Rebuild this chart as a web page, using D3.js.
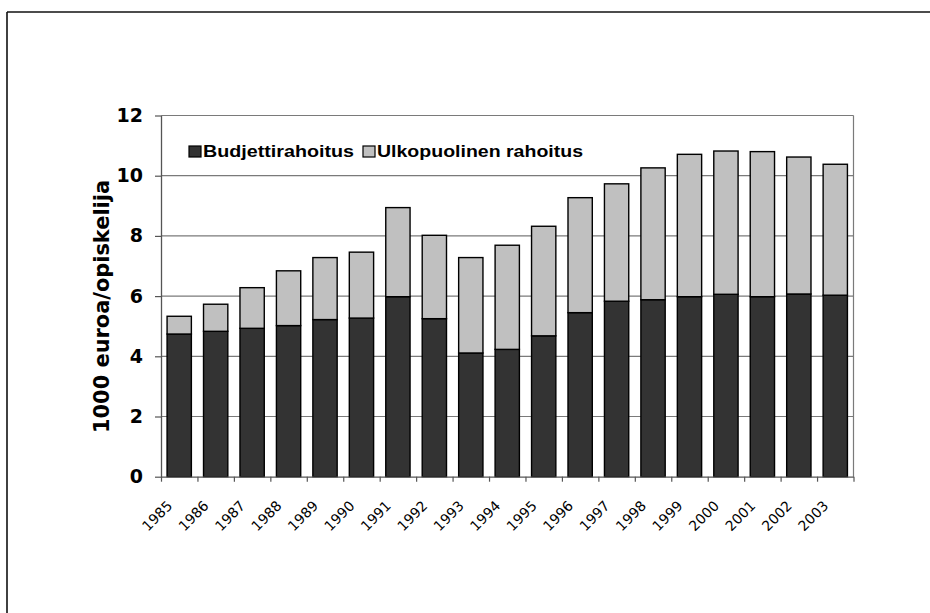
<!DOCTYPE html>
<html>
<head>
<meta charset="utf-8">
<script src="https://cdn.jsdelivr.net/npm/d3@7"></script>
<style>
  html, body { margin: 0; padding: 0; background: #fff; }
  svg { display: block; }
</style>
</head>
<body>
<svg id="chart" width="930" height="613"></svg>
<script>
// ---- data ----
const years = ["1985","1986","1987","1988","1989","1990","1991","1992","1993","1994","1995","1996","1997","1998","1999","2000","2001","2002","2003"];
const budjettirahoitus = [4.74,4.83,4.93,5.02,5.22,5.27,5.98,5.25,4.11,4.23,4.68,5.45,5.83,5.88,5.98,6.06,5.98,6.07,6.03];
const ulkopuolinenRahoitus = [0.59,0.90,1.35,1.82,2.06,2.19,2.96,2.77,3.17,3.46,3.64,3.82,3.90,4.38,4.73,4.76,4.82,4.55,4.35];
const seriesNames = ["Budjettirahoitus", "Ulkopuolinen rahoitus"];
const yTicks = [0, 2, 4, 6, 8, 10, 12];
const yTitle = "1000 euroa/opiskelija";

// ---- layout ----
const svg = d3.select("#chart");
const L = 161, R = 853.5, T = 115.5, B = 476.7;
const colors = ["#333333", "#c0c0c0"];

const rows = years.map((yr, i) => ({ year: yr, b: budjettirahoitus[i], u: ulkopuolinenRahoitus[i] }));
const stacked = d3.stack().keys(["b", "u"])(rows);

const x = d3.scaleBand().domain(years).range([L, R]).paddingInner(1/3).paddingOuter(1/6);
const y = d3.scaleLinear().domain([0, 12]).range([B, T]);

// outer frame (top and left edges)
svg.append("line").attr("x1", 7).attr("x2", 930).attr("y1", 12).attr("y2", 12)
  .attr("stroke", "#111").attr("stroke-width", 1.6);
svg.append("line").attr("x1", 7).attr("x2", 7).attr("y1", 12).attr("y2", 613)
  .attr("stroke", "#111").attr("stroke-width", 1.6);

// gridlines
svg.append("g").selectAll("line").data(yTicks.filter(d => d > 0)).join("line")
  .attr("x1", L).attr("x2", R)
  .attr("y1", d => y(d)).attr("y2", d => y(d))
  .attr("stroke", "#7a7a7a").attr("stroke-width", 1.2);

// right border of plot
svg.append("line").attr("x1", R).attr("x2", R).attr("y1", T).attr("y2", B)
  .attr("stroke", "#7a7a7a").attr("stroke-width", 1.2);

// bars
svg.append("g").selectAll("g").data(stacked).join("g")
  .attr("fill", (d, i) => colors[i])
  .selectAll("rect").data(d => d).join("rect")
  .attr("x", d => x(d.data.year))
  .attr("width", x.bandwidth())
  .attr("y", d => y(d[1]))
  .attr("height", d => y(d[0]) - y(d[1]))
  .attr("stroke", "#000").attr("stroke-width", 1.4);

// y axis
const yAxis = svg.append("g").attr("transform", `translate(${L},0)`)
  .call(d3.axisLeft(y).tickValues(yTicks).tickSize(6).tickPadding(12).tickSizeOuter(0));
yAxis.select(".domain").attr("stroke", "#555").attr("stroke-width", 1.3);
yAxis.selectAll(".tick line").attr("stroke", "#555").attr("stroke-width", 1.2);
yAxis.selectAll(".tick text")
  .attr("font-family", "DejaVu Sans").attr("font-weight", "bold")
  .attr("font-size", 19).attr("fill", "#000");

// x axis (ticks at category boundaries)
const xb = d3.scaleLinear().domain([0, years.length]).range([L, R]);
const xAxis = svg.append("g").attr("transform", `translate(0,${B})`)
  .call(d3.axisBottom(xb).tickValues(d3.range(years.length + 1)).tickSize(5).tickFormat("").tickSizeOuter(0));
xAxis.select(".domain").attr("stroke", "#555").attr("stroke-width", 1.3);
xAxis.selectAll(".tick line").attr("stroke", "#555").attr("stroke-width", 1.2);

// x labels rotated
svg.append("g").selectAll("text").data(years).join("text")
  .attr("transform", d => `translate(${x(d) + x.bandwidth()/2 - 6},${B + 30}) rotate(-45)`)
  .attr("text-anchor", "end")
  .attr("font-family", "DejaVu Sans").attr("font-size", 14)
  .attr("fill", "#000")
  .text(d => d);

// y title
svg.append("text")
  .attr("transform", `translate(108.5,${(180 + 433)/2}) rotate(-90)`)
  .attr("text-anchor", "middle")
  .attr("font-family", "DejaVu Sans").attr("font-weight", "bold")
  .attr("font-size", 21)
  .attr("textLength", 253).attr("lengthAdjust", "spacingAndGlyphs")
  .attr("fill", "#000")
  .text(yTitle);

// legend
const legendItems = [
  { name: seriesNames[0], color: colors[0], sx: 189, tx: 203, w: 151 },
  { name: seriesNames[1], color: colors[1], sx: 363, tx: 377, w: 206 }
];
const lg = svg.append("g");
lg.selectAll("rect").data(legendItems).join("rect")
  .attr("x", d => d.sx).attr("y", 146).attr("width", 12).attr("height", 11)
  .attr("fill", d => d.color).attr("stroke", "#000").attr("stroke-width", 1.2);
lg.selectAll("text").data(legendItems).join("text")
  .attr("x", d => d.tx).attr("y", 157)
  .attr("font-family", "Liberation Sans, Arial, sans-serif").attr("font-weight", "bold")
  .attr("font-size", 17)
  .attr("textLength", d => d.w).attr("lengthAdjust", "spacingAndGlyphs")
  .attr("fill", "#000")
  .text(d => d.name);
</script>
</body>
</html>
